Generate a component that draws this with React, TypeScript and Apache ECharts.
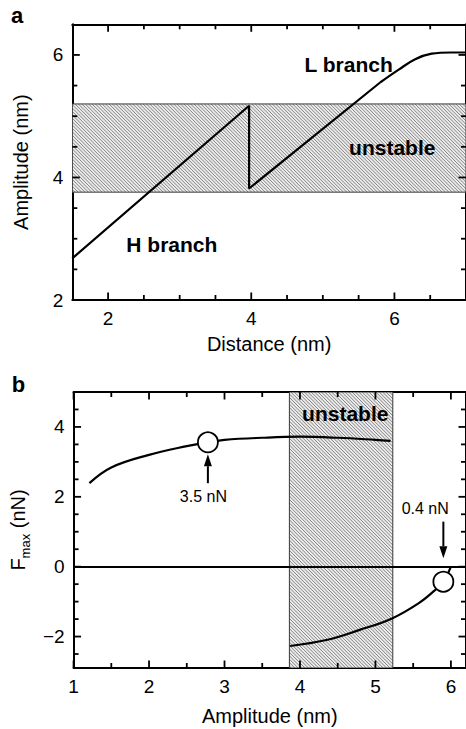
import React, { useEffect, useRef } from "react";
import * as echarts from "echarts";

const FONT = "'Liberation Sans', Arial, Helvetica, sans-serif";

// ---------- Panel a : Amplitude vs Distance ----------
const aDistStraight = [1.5, 3.97, 3.97, 5.8];
const aAmpStraight = [2.68, 5.17, 3.82, 5.55];
const aDistCurve = [5.8, 6.06, 6.29, 6.52, 6.79, 7.0];
const aAmpCurve = [5.55, 5.76, 5.93, 6.02, 6.04, 6.04];
const aUnstable = [3.76, 5.2];
const aXRange = [1.5, 7];
const aYRange = [2, 6.5];
const aXLabels = [2, 4, 6];
const aYLabels = [2, 4, 6];
const aXMinorTicks = [2.5, 3, 3.5, 4.5, 5, 5.5, 6.5];
const aYMinorTicks = [2.5, 3, 3.5, 4.5, 5, 5.5];
const aNotes = ["L branch", "unstable", "H branch"];
const aNoteX = [5.36, 5.97, 2.89];
const aNoteY = [5.85, 4.49, 2.91];

// ---------- Panel b : Fmax vs Amplitude ----------
const bAmpUpper = [1.21, 1.5, 2.0, 2.5, 2.78, 3.0, 3.5, 4.0, 4.5, 5.0, 5.2];
const bFUpper = [2.39, 2.84, 3.2, 3.45, 3.56, 3.63, 3.69, 3.72, 3.69, 3.63, 3.6];
const bAmpLower = [3.87, 4.35, 4.79, 5.22, 5.57, 5.79, 5.9, 6.0];
const bFLower = [-2.27, -2.1, -1.81, -1.48, -1.05, -0.67, -0.43, 0.0];
const bMarkA = [2.78, 5.9];
const bMarkF = [3.56, -0.43];
const bUnstable = [3.86, 5.23];
const bXRange = [1, 6.2];
const bYRange = [-2.9, 5];
const bXLabels = [1, 2, 3, 4, 5, 6];
const bYLabels = [-2, 0, 2, 4];
const bXMinorTicks = [1.5, 2.5, 3.5, 4.5, 5.5];
const bYMinorTicks = [-2.5, -1.5, -1, -0.5, 0.5, 1, 1.5, 2.5, 3, 3.5, 4.5];
const bNotes = ["unstable", "3.5 nN", "0.4 nN"];
const bNoteX = [4.6, 2.72, 5.66];
const bNoteY = [4.39, 2.02, 1.67];
const bArrowX = [2.78, 5.9];
const bArrowFrom = [2.39, 1.29];
const bArrowTo = [3.22, 0.24];

const zip = (xs: number[], ys: number[]) => xs.map((x, i) => [x, ys[i]]);
const fmt = (v: number) => (v < 0 ? "\u2212" + Math.abs(v) : String(v));

const MAJOR_LEN = 7.5;
const MINOR_LEN = 5;
const TICK_W = 1.8;

function axesFor(
  dim: "x" | "y",
  grid: number,
  range: number[],
  labels: number[],
  name: string,
  nameGap: number,
  nameTextStyle: any
) {
  const base: any = {
    type: "value",
    gridIndex: grid,
    min: range[0],
    max: range[1],
    splitLine: { show: false },
    axisTick: { show: false },
  };
  const line = { show: true, onZero: false, lineStyle: { color: "#000", width: 2 } };
  return [
    {
      ...base,
      position: dim === "x" ? "bottom" : "left",
      axisLine: line,
      axisLabel: {
        show: true,
        customValues: labels,
        formatter: fmt,
        margin: 9,
        fontSize: 19,
        color: "#000",
        fontFamily: FONT,
      },
      name,
      nameLocation: "middle",
      nameGap,
      nameTextStyle,
    },
    {
      ...base,
      position: dim === "x" ? "top" : "right",
      axisLine: line,
      axisLabel: { show: false },
    },
  ];
}

// frame series: one item spanning the plot, ticks drawn as small filled rects
const makeFrameRenderer =
  (xMaj: number[], xMin: number[], yMaj: number[], yMin: number[]) => (_params: any, api: any) => {
    const x0v = api.value(0);
    const x1v = api.value(1);
    const y0v = api.value(2);
    const y1v = api.value(3);
    const bl = api.coord([x0v, y0v]);
    const tr = api.coord([x1v, y1v]);
    const children: any[] = [];
    const rect = (x: number, y: number, w: number, h: number) =>
      children.push({
        type: "rect",
        shape: { x, y, width: w, height: h },
        style: { fill: "#000", stroke: "none" },
      });
    const xt = (vals: number[], len: number) =>
      vals.forEach((v) => {
        const px = api.coord([v, y0v])[0];
        rect(px - TICK_W / 2, bl[1] - len, TICK_W, len);
        rect(px - TICK_W / 2, tr[1], TICK_W, len);
      });
    const yt = (vals: number[], len: number) =>
      vals.forEach((v) => {
        const py = api.coord([x0v, v])[1];
        rect(bl[0], py - TICK_W / 2, len, TICK_W);
        rect(tr[0] - len, py - TICK_W / 2, len, TICK_W);
      });
    xt(xMaj, MAJOR_LEN);
    xt(xMin, MINOR_LEN);
    yt(yMaj, MAJOR_LEN);
    yt(yMin, MINOR_LEN);
    return { type: "group", children };
  };

const renderBand = (_params: any, api: any) => {
  const p0 = api.coord([api.value(0), api.value(3)]);
  const p1 = api.coord([api.value(1), api.value(2)]);
  const x0 = Math.min(p0[0], p1[0]);
  const x1 = Math.max(p0[0], p1[0]);
  const y0 = Math.min(p0[1], p1[1]);
  const y1 = Math.max(p0[1], p1[1]);
  const children: any[] = [
    {
      type: "rect",
      shape: { x: x0, y: y0, width: x1 - x0, height: y1 - y0 },
      style: { fill: "#ebebeb", stroke: "none" },
    },
  ];
  const step = 3.4;
  for (let c = y0 - x1; c <= y1 - x0; c += step) {
    const xa = Math.max(x0, y0 - c);
    const xb = Math.min(x1, y1 - c);
    if (xb > xa) {
      children.push({
        type: "line",
        shape: { x1: xa, y1: xa + c, x2: xb, y2: xb + c },
        style: { stroke: "#848484", lineWidth: 1 },
      });
    }
  }
  children.push({
    type: "rect",
    shape: { x: x0, y: y0, width: x1 - x0, height: y1 - y0 },
    style: { fill: "none", stroke: "#3a3a3a", lineWidth: 1 },
  });
  return { type: "group", children };
};

const renderArrow = (_params: any, api: any) => {
  const p0 = api.coord([api.value(0), api.value(1)]);
  const p1 = api.coord([api.value(0), api.value(2)]);
  const dir = p1[1] < p0[1] ? -1 : 1;
  const headLen = 12;
  const headHalf = 4;
  const baseY = p1[1] - dir * headLen;
  return {
    type: "group",
    children: [
      {
        type: "line",
        shape: { x1: p0[0], y1: p0[1], x2: p0[0], y2: baseY },
        style: { stroke: "#000", lineWidth: 2 },
      },
      {
        type: "polygon",
        shape: {
          points: [
            [p1[0], p1[1]],
            [p1[0] - headHalf, baseY],
            [p1[0] + headHalf, baseY],
          ],
        },
        style: { fill: "#000", stroke: "none" },
      },
    ],
  };
};

const makeNoteRenderer = (texts: string[], sizes: number[], weights: string[]) => (params: any, api: any) => {
  const i = params.dataIndex;
  const p = api.coord([api.value(0), api.value(1)]);
  return {
    type: "text",
    x: p[0],
    y: p[1],
    style: {
      text: texts[i],
      fill: "#000",
      fontSize: sizes[i],
      fontWeight: weights[i],
      fontFamily: FONT,
      align: "center",
      verticalAlign: "middle",
    },
  };
};

const lineStyle = { color: "#000", width: 2.2 };

const panelLabels = [
  { text: "a", x: 17, y: 15 },
  { text: "b", x: 18.5, y: 384 },
];

export default function App() {
  const ref = useRef<HTMLDivElement>(null);
  useEffect(() => {
    if (!ref.current) return;
    const chart = echarts.init(ref.current, undefined, { renderer: "svg" });
    const nameStyle = { fontSize: 20, color: "#000", fontFamily: FONT };
    const labelGraphics = panelLabels.map((l) => ({
      type: "text",
      x: l.x,
      y: l.y,
      style: {
        text: l.text,
        fontSize: 22,
        fontWeight: "bold",
        fontFamily: FONT,
        fill: "#000",
        align: "center",
        verticalAlign: "middle",
      },
    }));
    const option: any = {
      animation: false,
      backgroundColor: "#fff",
      grid: [
        { left: 72.3, top: 24.3, right: -5, height: 275.7 },
        { left: 73.3, top: 392, right: -5.6, height: 276 },
      ],
      xAxis: [
        ...axesFor("x", 0, aXRange, aXLabels, "Distance (nm)", 34, nameStyle),
        ...axesFor("x", 1, bXRange, bXLabels, "Amplitude (nm)", 38, nameStyle),
      ],
      yAxis: [
        ...axesFor("y", 0, aYRange, aYLabels, "Amplitude (nm)", 41, nameStyle),
        ...axesFor("y", 1, bYRange, bYLabels, "{f|F}{s|max}{f| (nN)}", 32, {
          rich: {
            f: { fontSize: 20, lineHeight: 20, color: "#000", fontFamily: FONT, verticalAlign: "top" },
            s: {
              fontSize: 13,
              lineHeight: 13,
              color: "#000",
              fontFamily: FONT,
              verticalAlign: "top",
              padding: [11, 0, 0, 0],
            },
          },
        }),
      ],
      graphic: labelGraphics,
      series: [
        // ----- panel a -----
        {
          type: "custom",
          xAxisIndex: 0,
          yAxisIndex: 0,
          renderItem: renderBand,
          clip: true,
          silent: true,
          z: 1,
          encode: { x: [0, 1], y: [2, 3] },
          data: [[aXRange[0], aXRange[1], aUnstable[0], aUnstable[1]]],
        },
        {
          type: "custom",
          xAxisIndex: 0,
          yAxisIndex: 0,
          renderItem: makeFrameRenderer(aXLabels, aXMinorTicks, aYLabels, aYMinorTicks),
          clip: false,
          silent: true,
          z: 4,
          encode: { x: [0, 1], y: [2, 3] },
          data: [[aXRange[0], aXRange[1], aYRange[0], aYRange[1]]],
        },
        {
          type: "line",
          xAxisIndex: 0,
          yAxisIndex: 0,
          data: zip(aDistStraight, aAmpStraight),
          symbol: "none",
          lineStyle,
          z: 3,
        },
        {
          type: "line",
          xAxisIndex: 0,
          yAxisIndex: 0,
          data: zip(aDistCurve, aAmpCurve),
          symbol: "none",
          smooth: 0.4,
          lineStyle,
          z: 3,
        },
        {
          type: "custom",
          xAxisIndex: 0,
          yAxisIndex: 0,
          renderItem: makeNoteRenderer(aNotes, [21, 21, 21], ["bold", "bold", "bold"]),
          clip: false,
          silent: true,
          z: 5,
          encode: { x: 0, y: 1 },
          data: zip(aNoteX, aNoteY),
        },
        // ----- panel b -----
        {
          type: "custom",
          xAxisIndex: 2,
          yAxisIndex: 2,
          renderItem: renderBand,
          clip: true,
          silent: true,
          z: 1,
          encode: { x: [0, 1], y: [2, 3] },
          data: [[bUnstable[0], bUnstable[1], bYRange[0], bYRange[1]]],
        },
        {
          type: "custom",
          xAxisIndex: 2,
          yAxisIndex: 2,
          renderItem: makeFrameRenderer(bXLabels, bXMinorTicks, bYLabels, bYMinorTicks),
          clip: false,
          silent: true,
          z: 4,
          encode: { x: [0, 1], y: [2, 3] },
          data: [[bXRange[0], bXRange[1], bYRange[0], bYRange[1]]],
        },
        {
          type: "line",
          xAxisIndex: 2,
          yAxisIndex: 2,
          data: zip(bAmpUpper, bFUpper),
          symbol: "none",
          smooth: 0.4,
          lineStyle,
          z: 3,
          markLine: {
            silent: true,
            symbol: ["none", "none"],
            label: { show: false },
            lineStyle: { color: "#000", width: 2, type: "solid" },
            data: [{ yAxis: 0 }],
          },
        },
        {
          type: "line",
          xAxisIndex: 2,
          yAxisIndex: 2,
          data: zip(bAmpLower, bFLower),
          symbol: "none",
          smooth: 0.4,
          lineStyle,
          z: 3,
        },
        {
          type: "scatter",
          xAxisIndex: 2,
          yAxisIndex: 2,
          data: zip(bMarkA, bMarkF),
          symbol: "circle",
          symbolSize: 20,
          itemStyle: { color: "#fff", borderColor: "#000", borderWidth: 1.8, opacity: 1 },
          z: 6,
          silent: true,
        },
        {
          type: "custom",
          xAxisIndex: 2,
          yAxisIndex: 2,
          renderItem: renderArrow,
          clip: false,
          silent: true,
          z: 6,
          encode: { x: 0, y: [1, 2] },
          data: bArrowX.map((x, i) => [x, bArrowFrom[i], bArrowTo[i]]),
        },
        {
          type: "custom",
          xAxisIndex: 2,
          yAxisIndex: 2,
          renderItem: makeNoteRenderer(bNotes, [21, 16, 16], ["bold", "normal", "normal"]),
          clip: false,
          silent: true,
          z: 5,
          encode: { x: 0, y: 1 },
          data: zip(bNoteX, bNoteY),
        },
      ],
    };
    chart.setOption(option);
    return () => chart.dispose();
  }, []);
  return (
    <div
      ref={ref}
      style={{ position: "absolute", left: 0, top: 0, width: 466, height: 729, background: "#fff" }}
    />
  );
}
